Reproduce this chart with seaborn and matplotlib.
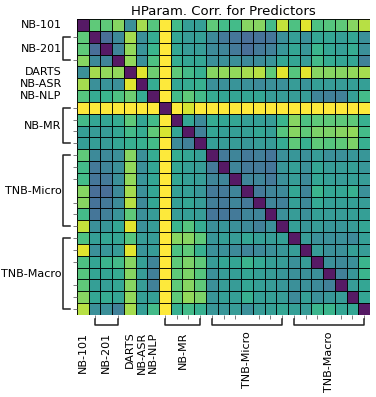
import numpy as np
import matplotlib
matplotlib.use("Agg")
import matplotlib.pyplot as plt
import seaborn as sns

groups = ["NB-101", "NB-201", "DARTS", "NB-ASR", "NB-NLP", "NB-MR", "TNB-Micro", "TNB-Macro"]
group_sizes = [1, 3, 1, 1, 1, 4, 7, 7]

# lower triangle of the (symmetric) matrix, row by row, diagonal = 0
lower = [
    [],
    [0.72],
    [0.72, 0.30],
    [0.80, 0.42, 0.40],
    [0.45, 0.85, 0.82, 0.82],
    [0.85, 0.45, 0.47, 0.45, 0.95],
    [0.70, 0.58, 0.62, 0.68, 0.75, 0.58],
    [1.0, 1.0, 1.0, 1.0, 1.0, 1.0, 1.0],
    [0.65, 0.55, 0.55, 0.58, 0.72, 0.55, 0.65, 1.0],
    [0.52, 0.50, 0.50, 0.55, 0.65, 0.58, 0.72, 0.93, 0.55],
    [0.52, 0.52, 0.50, 0.55, 0.60, 0.60, 0.65, 1.0, 0.42, 0.38],
    [0.72, 0.42, 0.42, 0.45, 0.80, 0.45, 0.58, 1.0, 0.58, 0.55, 0.52],
    [0.65, 0.35, 0.40, 0.45, 0.82, 0.45, 0.55, 1.0, 0.55, 0.52, 0.50, 0.35],
    [0.65, 0.33, 0.35, 0.45, 0.82, 0.47, 0.55, 1.0, 0.55, 0.52, 0.50, 0.40, 0.40],
    [0.80, 0.30, 0.30, 0.42, 0.85, 0.45, 0.55, 1.0, 0.52, 0.52, 0.48, 0.35, 0.35, 0.40],
    [0.80, 0.32, 0.35, 0.43, 0.88, 0.42, 0.55, 1.0, 0.52, 0.55, 0.50, 0.37, 0.35, 0.40, 0.35],
    [0.65, 0.33, 0.38, 0.47, 0.72, 0.45, 0.50, 1.0, 0.50, 0.52, 0.50, 0.33, 0.33, 0.35, 0.40, 0.40],
    [0.90, 0.45, 0.48, 0.55, 0.95, 0.45, 0.50, 1.0, 0.62, 0.70, 0.58, 0.45, 0.48, 0.45, 0.42, 0.38, 0.45],
    [0.68, 0.52, 0.55, 0.55, 0.70, 0.50, 0.50, 1.0, 0.80, 0.80, 0.72, 0.48, 0.52, 0.50, 0.55, 0.52, 0.50, 0.52],
    [0.95, 0.45, 0.48, 0.50, 0.95, 0.47, 0.50, 1.0, 0.68, 0.72, 0.60, 0.45, 0.45, 0.42, 0.40, 0.42, 0.45, 0.48, 0.50],
    [0.68, 0.55, 0.62, 0.65, 0.80, 0.52, 0.40, 1.0, 0.72, 0.78, 0.72, 0.50, 0.55, 0.55, 0.62, 0.57, 0.52, 0.50, 0.45, 0.50],
    [0.70, 0.55, 0.55, 0.58, 0.80, 0.50, 0.38, 1.0, 0.72, 0.78, 0.70, 0.45, 0.50, 0.52, 0.55, 0.52, 0.50, 0.48, 0.45, 0.45, 0.45],
    [0.72, 0.52, 0.52, 0.55, 0.80, 0.50, 0.38, 1.0, 0.72, 0.80, 0.72, 0.45, 0.50, 0.50, 0.55, 0.52, 0.50, 0.48, 0.45, 0.45, 0.42, 0.38],
    [0.80, 0.55, 0.58, 0.55, 0.82, 0.52, 0.52, 1.0, 0.72, 0.82, 0.78, 0.48, 0.52, 0.52, 0.60, 0.52, 0.52, 0.50, 0.42, 0.52, 0.45, 0.48, 0.50],
    [0.88, 0.45, 0.45, 0.38, 0.85, 0.52, 0.65, 1.0, 0.60, 0.65, 0.60, 0.48, 0.48, 0.50, 0.45, 0.50, 0.52, 0.55, 0.52, 0.50, 0.62, 0.62, 0.55, 0.55],
]

n = sum(group_sizes)
mat = np.zeros((n, n))
for i, row in enumerate(lower):
    mat[i, :len(row)] = row
mat = mat + mat.T

fig = plt.figure(figsize=(3.76, 3.97), dpi=100)
ax = fig.add_axes([77 / 376, 1 - 315 / 397, 293 / 376, 296 / 397])
sns.heatmap(mat, ax=ax, cmap="viridis", vmin=0, vmax=1, cbar=False,
            linewidths=0.6, linecolor=(0, 0, 0, 0.75), alpha=0.9)

edges = np.cumsum([0] + group_sizes)
centers = (edges[:-1] + edges[1:]) / 2
ax.set_xticks(centers)
ax.set_xticklabels(groups, rotation=90, fontsize=8, va="top")
ax.set_yticks(centers)
ax.set_yticklabels(groups, rotation=0, fontsize=8)
ax.tick_params(which="major", length=0)
ax.tick_params(axis="y", which="major", pad=11)
ax.tick_params(axis="x", which="major", pad=12)
ax.set_xticks(np.arange(n) + 0.5, minor=True)
ax.set_yticks(np.arange(n) + 0.5, minor=True)
ax.tick_params(which="minor", length=3, width=0.6, color="#666666")

# brackets for groups with several rows
ytr = ax.get_yaxis_transform()
xtr = ax.get_xaxis_transform()
for s, e in zip(edges[:-1], edges[1:]):
    if e - s < 2:
        continue
    a, b = s + 0.5, e - 0.5
    ax.plot([-0.025, -0.047, -0.047, -0.025], [a, a, b, b], transform=ytr,
            color="#222222", lw=1.1, clip_on=False)
    ax.plot([a, a, b, b], [-0.013, -0.034, -0.034, -0.013], transform=xtr,
            color="#222222", lw=1.1, clip_on=False)

ax.set_title("HParam. Corr. for Predictors", fontsize=9.5, pad=3)
fig.savefig("out.png", dpi=100)
